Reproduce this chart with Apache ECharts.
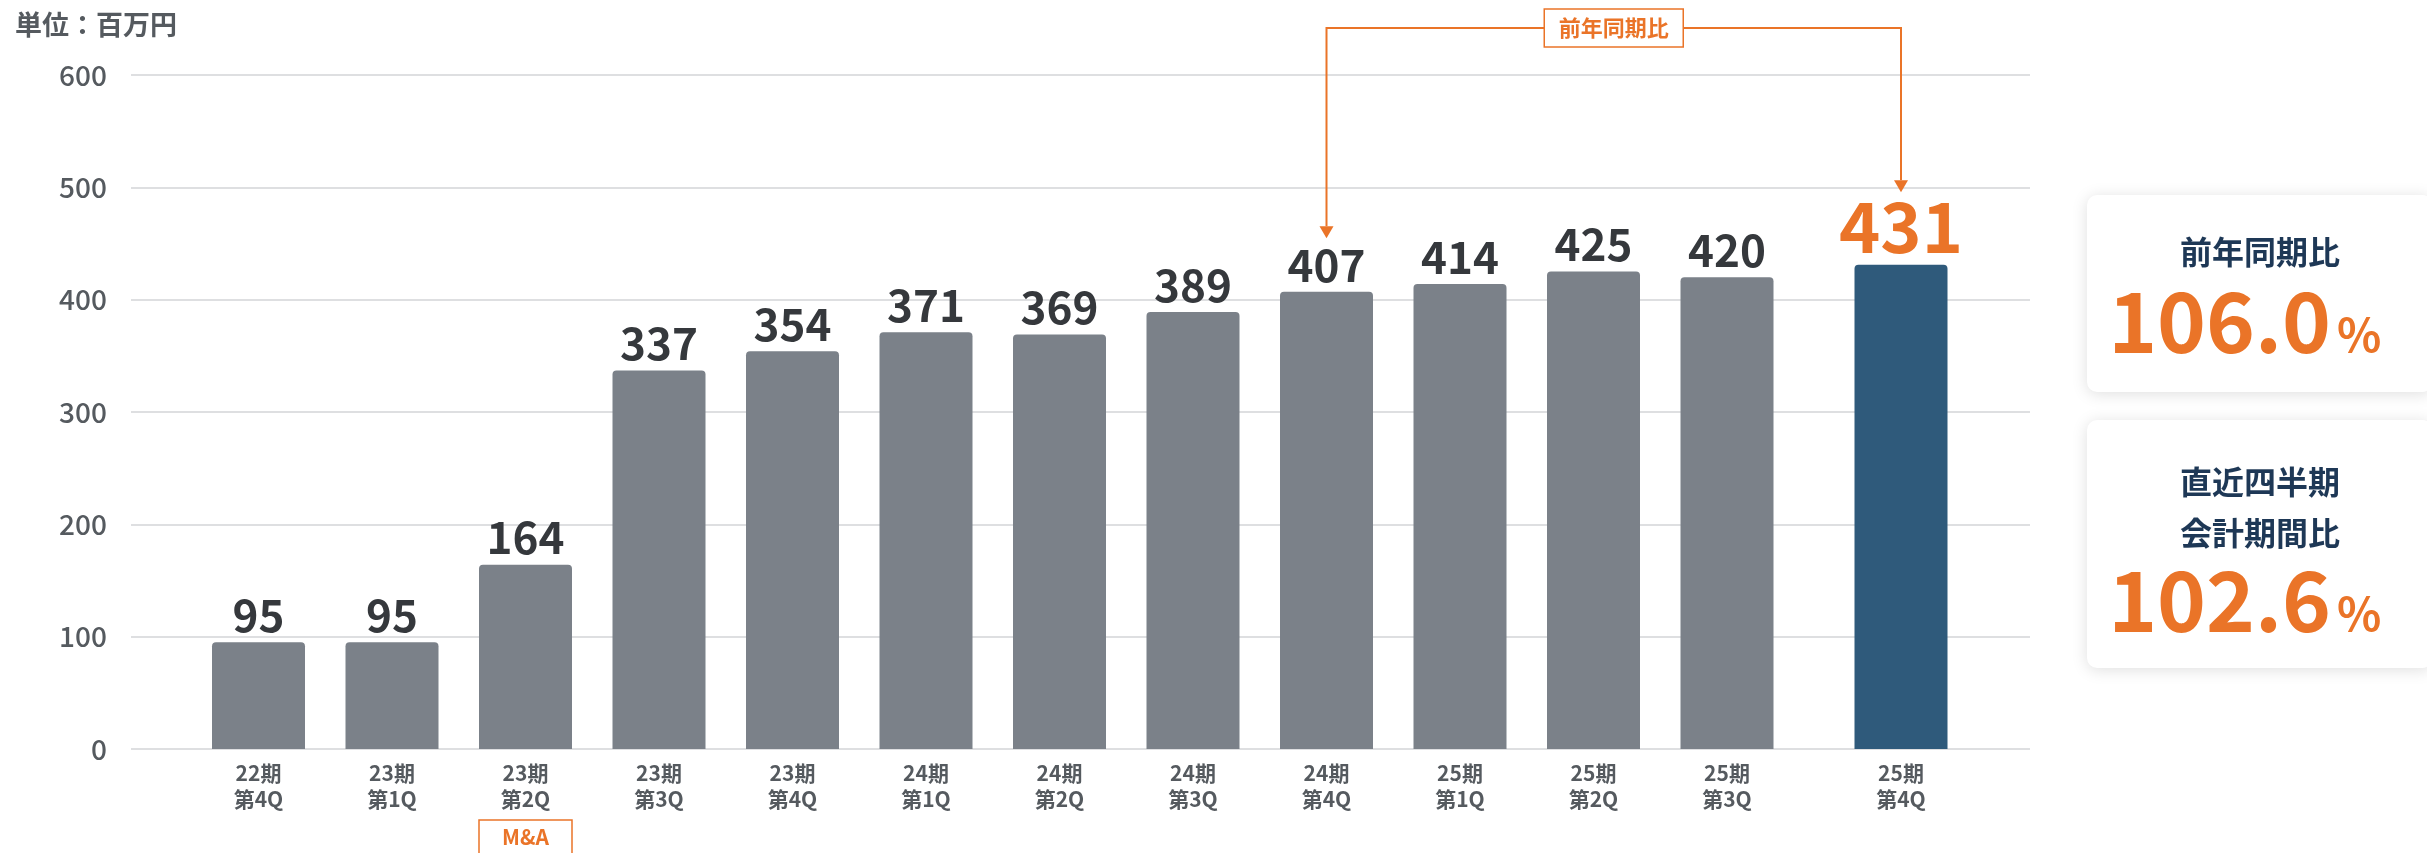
<!DOCTYPE html>
<html>
<head>
<meta charset="utf-8">
<script src="https://cdn.jsdelivr.net/npm/echarts@6/dist/echarts.min.js"></script>
<style>
  html, body { margin: 0; padding: 0; background: #ffffff; }
  #main { width: 2427px; height: 853px; }
</style>
</head>
<body>
<div id="main"></div>
<script>
// Quarterly figures (unit: million yen)
const categories = ['22期\n第4Q', '23期\n第1Q', '23期\n第2Q', '23期\n第3Q', '23期\n第4Q', '24期\n第1Q',
                    '24期\n第2Q', '24期\n第3Q', '24期\n第4Q', '25期\n第1Q', '25期\n第2Q', '25期\n第3Q'];
const revenue = [95, 95, 164, 337, 354, 371, 369, 389, 407, 414, 425, 420];
const latestCategory = ['25期\n第4Q'];
const latestRevenue = [431];
const yTickValues = [0, 100, 200, 300, 400, 500, 600];

const unitText = '単位：百万円';
const maNote = 'M&A';
const maIndex = 2;            // 23期 第2Q
const compareIndex = 8;       // 24期 第4Q, same quarter one year earlier
const yoyTitle = '前年同期比';
const yoyRatio = '106.0';
const qoqTitle = ['直近四半期', '会計期間比'];
const qoqRatio = '102.6';

const FONT = '"Noto Sans CJK JP", "Noto Sans", sans-serif';
const GREY_BAR = '#7b8189';
const NAVY_BAR = '#2f5a7b';
const ORANGE = '#ea7428';
const NAVY_TEXT = '#1e3856';
const AXIS_TEXT = '#555a5f';
const GRID_LINE = '#dedfe1';

const chart = echarts.init(document.getElementById('main'), null, { renderer: 'canvas' });

const yMin = yTickValues[0];
const yMax = yTickValues[yTickValues.length - 1];
const yStep = yTickValues[1] - yTickValues[0];

const plotTop = 75, plotBottom = 104;
const slot = 133.5;

function hiddenY(gridIndex) {
  return { type: 'value', gridIndex, min: yMin, max: yMax, interval: yStep, show: false };
}

const catLabel = { fontFamily: FONT, fontSize: 21, fontWeight: 'bold', color: AXIS_TEXT, lineHeight: 26, margin: 11 };

const option = {
  backgroundColor: '#ffffff',
  animation: false,
  grid: [
    // background grid carrying the value scale and its guide lines
    { left: 131, right: 397, top: plotTop, bottom: plotBottom },
    // quarterly bars
    { left: 258.5 - slot / 2, width: slot * categories.length, top: plotTop, bottom: plotBottom },
    // latest quarter, set apart
    { left: 1901 - slot / 2, width: slot, top: plotTop, bottom: plotBottom }
  ],
  xAxis: [
    { type: 'category', gridIndex: 0, data: [''], show: false },
    {
      type: 'category', gridIndex: 1, data: categories,
      axisLine: { show: false }, axisTick: { show: false },
      axisLabel: catLabel
    },
    {
      type: 'category', gridIndex: 2, data: latestCategory,
      axisLine: { show: false }, axisTick: { show: false },
      axisLabel: catLabel
    }
  ],
  yAxis: [
    {
      type: 'value', gridIndex: 0, min: yMin, max: yMax, interval: yStep,
      axisLine: { show: false }, axisTick: { show: false },
      axisLabel: { fontFamily: FONT, fontSize: 28, fontWeight: 500, color: AXIS_TEXT, margin: 24 },
      splitLine: { show: true, lineStyle: { color: GRID_LINE, width: 2 } }
    },
    hiddenY(1),
    hiddenY(2)
  ],
  series: [
    {
      type: 'bar', xAxisIndex: 1, yAxisIndex: 1, data: revenue,
      barWidth: 93,
      itemStyle: { color: GREY_BAR, borderRadius: [4, 4, 0, 0] },
      label: {
        show: true, position: 'top', distance: 5,
        fontFamily: FONT, fontSize: 44, fontWeight: 600, color: '#35383c'
      }
    },
    {
      type: 'bar', xAxisIndex: 2, yAxisIndex: 2, data: latestRevenue,
      barWidth: 93,
      itemStyle: { color: NAVY_BAR, borderRadius: [4, 4, 0, 0] },
      label: {
        show: true, position: 'top', distance: 3,
        fontFamily: FONT, fontSize: 70, fontWeight: 600, color: ORANGE
      }
    }
  ]
};

chart.setOption(option);

// Annotations placed from the axes' own scales
const fromPt = chart.convertToPixel({ xAxisIndex: 1, yAxisIndex: 1 }, [compareIndex, revenue[compareIndex]]);
const toPt = chart.convertToPixel({ xAxisIndex: 2, yAxisIndex: 2 }, [0, latestRevenue[0]]);
const maPt = chart.convertToPixel({ xAxisIndex: 1, yAxisIndex: 1 }, [maIndex, 0]);

const bracketY = 28;
const tipFrom = fromPt[1] - 5 - 0.12 * 44 - 0.733 * 44 - 11;
const tipTo = toPt[1] - 3 - 0.12 * 70 - 0.733 * 70 - 10;
const arrowH = 12, arrowW = 7;
const midX = (fromPt[0] + toPt[0]) / 2;

function card(y, h) {
  return {
    type: 'rect', shape: { x: 2087, y, width: 345, height: h, r: 10 },
    style: { fill: '#ffffff', shadowBlur: 16, shadowColor: 'rgba(0,0,0,0.13)', shadowOffsetY: 2 },
    z: 1
  };
}
function txt(x, y, text, size, color, align, vAlign, extra) {
  return {
    type: 'text', z: 5,
    style: Object.assign({
      x, y, text, fontFamily: FONT, fontSize: size, fontWeight: 'bold', fill: color,
      align, verticalAlign: vAlign
    }, extra || {})
  };
}

const lineStyle = { stroke: ORANGE, lineWidth: 2, fill: null };

chart.setOption({
  graphic: [
    txt(15, 25, unitText, 27, AXIS_TEXT, 'left', 'middle'),

    // year-over-year bracket
    { type: 'polyline', z: 4, shape: { points: [[fromPt[0], tipFrom - arrowH], [fromPt[0], bracketY], [toPt[0], bracketY], [toPt[0], tipTo - arrowH]] }, style: lineStyle },
    { type: 'polygon', z: 4, shape: { points: [[fromPt[0] - arrowW, tipFrom - arrowH], [fromPt[0] + arrowW, tipFrom - arrowH], [fromPt[0], tipFrom]] }, style: { fill: ORANGE } },
    { type: 'polygon', z: 4, shape: { points: [[toPt[0] - arrowW, tipTo - arrowH], [toPt[0] + arrowW, tipTo - arrowH], [toPt[0], tipTo]] }, style: { fill: ORANGE } },
    { type: 'rect', z: 5, shape: { x: midX - 69.5, y: bracketY - 19, width: 139, height: 38 }, style: { fill: '#ffffff', stroke: ORANGE, lineWidth: 1.5 } },
    txt(midX, bracketY, yoyTitle, 22, ORANGE, 'center', 'middle'),

    // M&A note under 23期 第2Q
    { type: 'rect', z: 5, shape: { x: maPt[0] - 46.5, y: 820, width: 93, height: 40 }, style: { fill: '#ffffff', stroke: ORANGE, lineWidth: 1.5 } },
    txt(maPt[0], 837, maNote, 21, ORANGE, 'center', 'middle'),

    // summary cards
    card(195, 197),
    card(420, 248),
    txt(2260, 252, yoyTitle, 32, NAVY_TEXT, 'center', 'middle'),
    txt(2331, 363, yoyRatio, 83, ORANGE, 'right', 'bottom', { letterSpacing: -3 }),
    txt(2337, 358, '%', 46, ORANGE, 'left', 'bottom'),
    txt(2260, 482, qoqTitle[0], 32, NAVY_TEXT, 'center', 'middle'),
    txt(2260, 533, qoqTitle[1], 32, NAVY_TEXT, 'center', 'middle'),
    txt(2331, 642, qoqRatio, 83, ORANGE, 'right', 'bottom', { letterSpacing: -3 }),
    txt(2337, 637, '%', 46, ORANGE, 'left', 'bottom')
  ]
});
</script>
</body>
</html>
